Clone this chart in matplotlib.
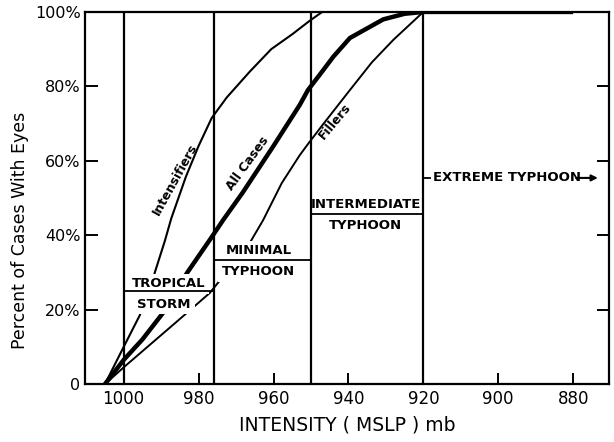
import matplotlib
matplotlib.use("Agg")
import matplotlib.pyplot as plt

# Curves: pressure (mb) -> percent of cases with eyes
intens_mb = [1005, 1000, 995.7, 992, 989, 987.3, 983.4, 980, 976.5, 972.5, 966.3, 960.6, 955, 950.5, 947]
intens_pct = [0, 10, 18.5, 29, 38.5, 44.5, 55.7, 64, 71.5, 77, 84, 90, 94, 97.5, 100]

all_mb = [1005, 1000, 995, 989.6, 983, 976.5, 973.5, 968.2, 960, 953, 950.8, 947, 944, 939.6, 930.7, 925, 920, 880]
all_pct = [0, 6.5, 12, 19, 30, 39.5, 44, 51.5, 64, 75, 79, 84, 88, 93, 98, 99.5, 100, 100]

fill_mb = [1005, 1000, 992.5, 985, 977, 973, 966.3, 962.8, 957.8, 953, 950.8, 947, 940, 933.7, 928, 920]
fill_pct = [0, 4.5, 11, 17.5, 24.5, 29.5, 38, 44, 54, 61.5, 64.5, 69.5, 78.5, 86.5, 92.5, 100]

# intensity class boundaries and the class percentages
boundaries = [1000, 976, 950, 920]
class_pct = [25, 33.3, 45.7]
extreme_pct = 55.4

x_ticks = [1000, 980, 960, 940, 920, 900, 880]
y_ticks = [0, 20, 40, 60, 80, 100]
y_labels = ["0", "20%", "40%", "60%", "80%", "100%"]

fig = plt.figure(figsize=(6.14, 4.42), dpi=100)
ax = fig.add_axes([0.138, 0.131, 0.854, 0.842])

ax.plot(intens_mb, intens_pct, color="k", lw=1.5, zorder=2, solid_capstyle="butt")
ax.plot(all_mb, all_pct, color="k", lw=3.2, zorder=2, solid_capstyle="butt")
ax.plot(fill_mb, fill_pct, color="k", lw=1.4, zorder=2, solid_capstyle="butt")

for b in boundaries:
    ax.axvline(b, color="k", lw=1.6, zorder=4)
for i, p in enumerate(class_pct):
    ax.plot([boundaries[i], boundaries[i + 1]], [p, p], color="k", lw=1.3, zorder=4)
ax.plot([boundaries[-1], boundaries[-1] - 1.8], [extreme_pct, extreme_pct], color="k", lw=1.3, zorder=4)

box = dict(facecolor="white", edgecolor="none", pad=2.8)
lab = dict(fontsize=9.5, fontweight="bold", ha="center", va="center", zorder=3, bbox=box)
ax.text(988, 26.9, "TROPICAL", **lab)
ax.text(989.2, 21.5, "STORM", **lab)
ax.text(964, 35.8, "MINIMAL", **lab)
ax.text(964, 30.2, "TYPHOON", **lab)
ax.text(935.4, 48.2, "INTERMEDIATE", **lab)
ax.text(935.4, 42.5, "TYPHOON", **lab)
ax.text(917.3, extreme_pct, "EXTREME TYPHOON", fontsize=9.5, fontweight="bold",
        ha="left", va="center", zorder=3)
ax.annotate("", xy=(873.4, extreme_pct), xytext=(879.2, extreme_pct),
            arrowprops=dict(arrowstyle="-|>", color="k", lw=1.5, mutation_scale=9,
                            shrinkA=0, shrinkB=0))

rot = dict(fontsize=9, fontweight="bold", ha="center", va="center", rotation_mode="anchor")
ax.text(986.3, 55, "Intensifiers", rotation=61, **rot)
ax.text(966.8, 59.4, "All Cases", rotation=54, **rot)
ax.text(943.6, 70.7, "Fillers", rotation=50, **rot)

ax.set_xlim(1010.4, 870.4)
ax.set_ylim(0, 100)
ax.set_xticks(x_ticks)
ax.set_xticklabels([str(v) for v in x_ticks])
ax.set_yticks(y_ticks)
ax.set_yticklabels(y_labels)
ax.tick_params(axis="x", direction="in", length=8, width=1.4, labelsize=12, pad=4)
ax.tick_params(axis="y", direction="in", length=9, width=1.4, labelsize=11.5, pad=3,
               right=True)
for s in ax.spines.values():
    s.set_linewidth(1.6)

ax.set_xlabel("INTENSITY ( MSLP ) mb", fontsize=13.5, labelpad=6)
ax.set_ylabel("Percent of Cases With Eyes", fontsize=12.5, va="center")
ax.yaxis.set_label_coords(-0.124, 0.414)

fig.savefig("out.png", dpi=100)
